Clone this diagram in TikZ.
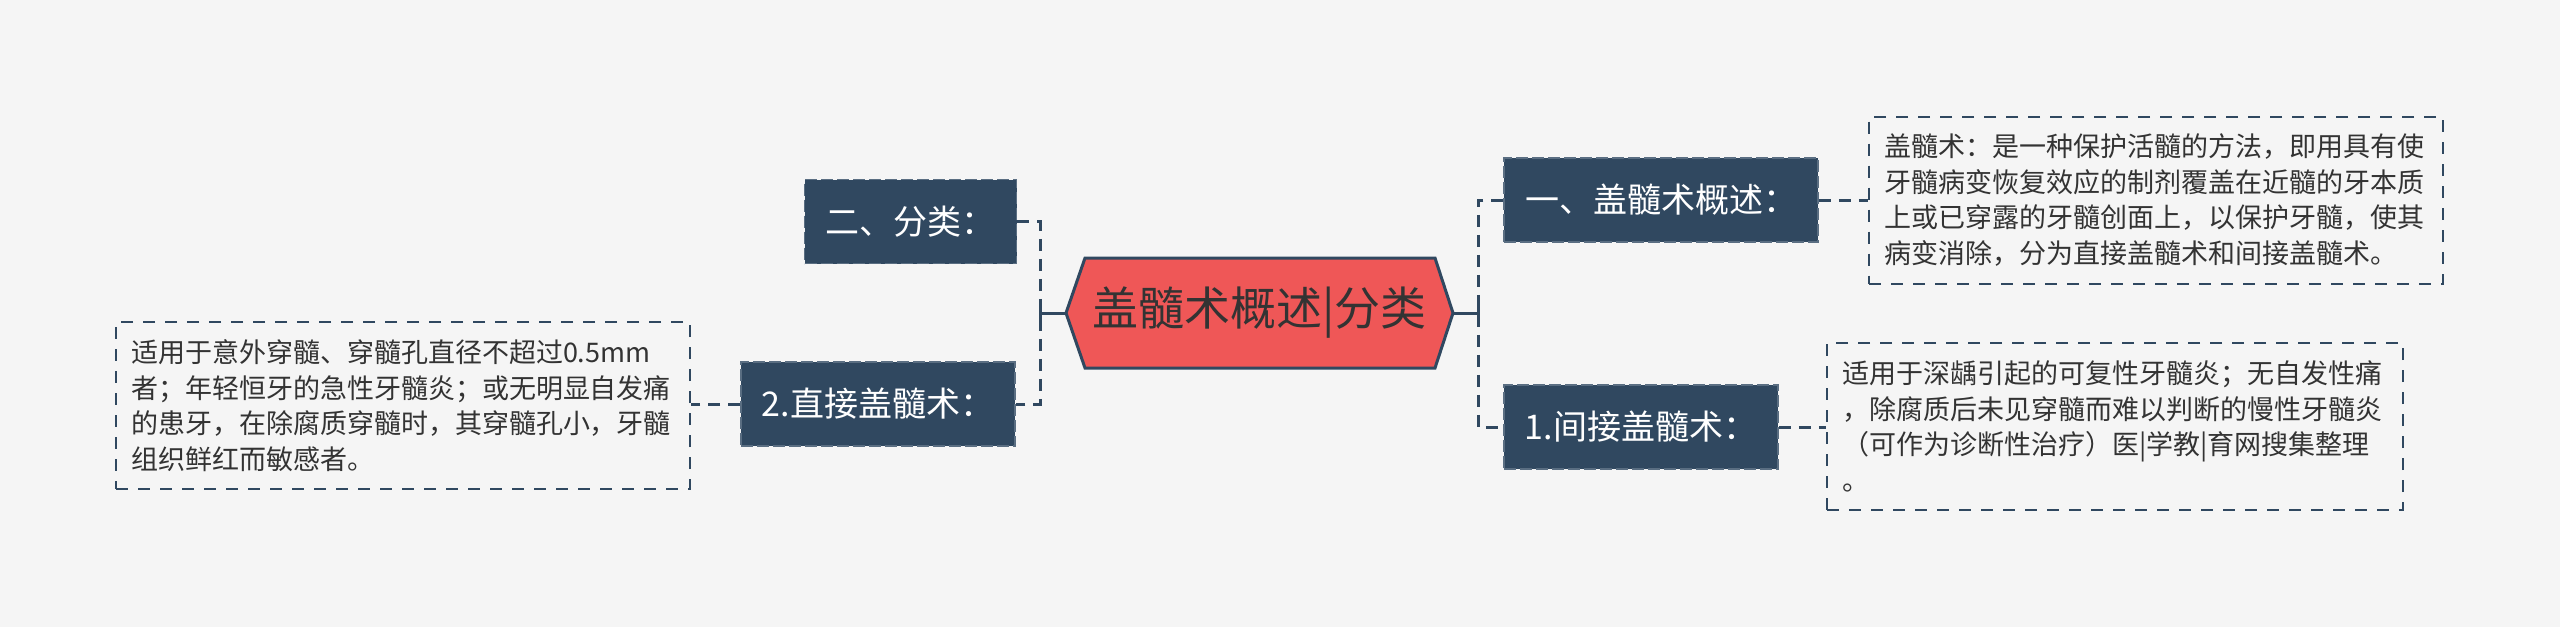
\documentclass[tikz,border=0pt]{standalone}
\usepackage{fontspec}
\setmainfont{Noto Sans CJK SC}
\usetikzlibrary{calc}
\definecolor{bg}{HTML}{F5F5F5}
\definecolor{dk}{HTML}{304860}
\definecolor{dkb}{HTML}{5A6E82}
\definecolor{redf}{HTML}{EF5757}
\definecolor{txt}{HTML}{333333}
\tikzset{
  topicbox/.style={fill=dk, draw=dkb, line width=1.5pt, dash pattern=on 12pt off 4pt,
    text=white, font=\fontsize{34}{40}\selectfont, inner xsep=21pt, inner ysep=0pt,
    minimum height=84pt, anchor=center},
  notebox/.style={fill=bg, draw=dk, line width=2pt, dash pattern=on 12pt off 10pt,
    text=txt, font=\fontsize{27}{35.5}\selectfont, align=left, text width=544pt,
    inner xsep=15pt, inner ysep=0pt, minimum height=167pt},
  dcon/.style={draw=dk, line width=3pt, dash pattern=on 12pt off 8pt},
  scon/.style={draw=dk, line width=3pt},
  hexline/.style={draw=dk, line width=3pt, fill=redf, line join=miter},
}
\begin{document}
\begin{tikzpicture}[x=1pt,y=-1pt]
\fill[bg] (0,0) rectangle (2560,627);
\useasboundingbox (0,0) rectangle (2560,627);

% central hexagon
\coordinate (hl) at (1066,313);
\coordinate (hr) at (1453,313);
\draw[hexline] (hl) -- (1085,258) -- (1435,258) -- (hr) -- (1435,368) -- (1085,368) -- cycle;
\node[text=txt, font=\fontsize{46}{52}\selectfont, inner sep=0pt] (c) at (1259.5,313) {盖髓术概述|分类};

% spine coordinates
\coordinate (rs) at (1478,313);
\coordinate (ls) at (1040,313);

% right topics
\node[topicbox] (n1) at (1661,200) {一、盖髓术概述：};
\node[topicbox] (n2) at (1641,427) {1.间接盖髓术：};
% left topics
\node[topicbox] (n3) at (910.5,221.5) {二、分类：};
\node[topicbox] (n4) at (878,404) {2.直接盖髓术：};

% notes
\node[notebox] (t1) at (2156,200) {盖髓术：是一种保护活髓的方法，即用具有使\\牙髓病变恢复效应的制剂覆盖在近髓的牙本质\\上或已穿露的牙髓创面上，以保护牙髓，使其\\病变消除，分为直接盖髓术和间接盖髓术。};
\node[notebox, text width=546pt] (t2) at (2115,426.5) {适用于深龋引起的可复性牙髓炎；无自发性痛\\，除腐质后未见穿髓而难以判断的慢性牙髓炎\\（可作为诊断性治疗）医|学教|育网搜集整理\\。};
\node[notebox] (t3) at (403,405.5) {适用于意外穿髓、穿髓孔直径不超过0.5mm\\者；年轻恒牙的急性牙髓炎；或无明显自发痛\\的患牙，在除腐质穿髓时，其穿髓孔小，牙髓\\组织鲜红而敏感者。};

% connectors right
\draw[scon] (hr) -- (rs);
\draw[scon] ($(rs)+(0,-9)$) -- ($(rs)+(0,9)$);
\draw[dcon] (n1.west) -- (n1.west -| rs) -- (n2.west -| rs) -- (n2.west);
\draw[dcon] (n1.east) -- (n1.east -| t1.west);
\draw[dcon] (n2.east) -- (n2.east -| t2.west);

% connectors left
\draw[scon] (hl) -- (ls);
\draw[scon] ($(ls)+(0,-9)$) -- ($(ls)+(0,9)$);
\draw[dcon] (n3.east) -- (n3.east -| ls) -- (n4.east -| ls) -- (n4.east);
\draw[dcon] (n4.west) -- (n4.west -| t3.east);
\end{tikzpicture}
\end{document}
